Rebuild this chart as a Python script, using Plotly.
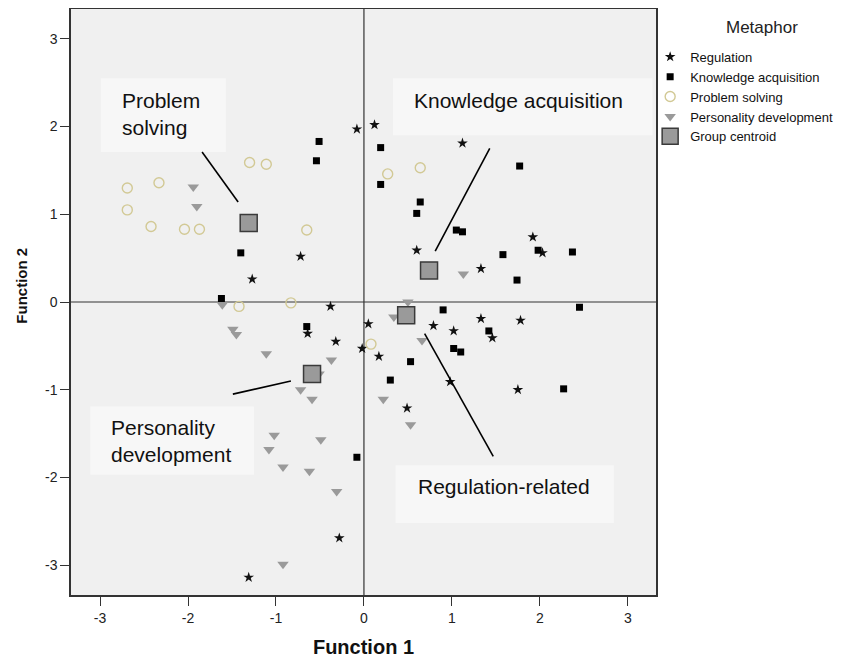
import plotly.graph_objects as go

# ---------------- data ----------------
reg_x = [-0.08, -0.72, -1.27, -0.38, 0.12, 1.12, 0.60, 1.33, 1.92, 2.03,
         -0.64, -0.32, -0.02, 0.05, -0.28, -1.31, 0.17, 0.79, 1.02, 1.33,
         1.78, 1.46, 0.98, 1.75, 0.49]
reg_y = [1.97, 0.52, 0.26, -0.05, 2.02, 1.81, 0.59, 0.38, 0.74, 0.56,
         -0.36, -0.45, -0.53, -0.25, -2.69, -3.14, -0.62, -0.27, -0.33, -0.19,
         -0.21, -0.41, -0.91, -1.00, -1.21]

know_x = [-0.51, -0.54, -1.40, -1.62, 0.19, 0.19, 0.64, 0.60, 1.05, 1.12,
          1.77, 1.58, 1.98, 2.37, 1.74, 0.90, 2.45, 1.42, 1.02, 1.10,
          0.53, 0.30, 2.27, -0.65, -0.08]
know_y = [1.83, 1.61, 0.56, 0.04, 1.76, 1.34, 1.14, 1.01, 0.82, 0.80,
          1.55, 0.54, 0.59, 0.57, 0.25, -0.09, -0.06, -0.33, -0.53, -0.57,
          -0.68, -0.89, -0.99, -0.28, -1.77]

prob_x = [-2.69, -2.33, -2.69, -2.42, -2.04, -1.87, -1.30, -1.11, -0.65, -1.42,
          -0.83, 0.27, 0.64, 0.08]
prob_y = [1.30, 1.36, 1.05, 0.86, 0.83, 0.83, 1.59, 1.57, 0.82, -0.05,
          -0.01, 1.46, 1.53, -0.48]

pers_x = [-1.94, -1.90, -1.61, -1.49, -1.45, -1.11, -0.37, -0.72, -0.59, -0.51,
          -1.02, -1.08, -0.92, -0.49, -0.62, -0.31, -0.92, 1.13, 0.34, 0.66,
          0.22, 0.53, 0.50]
pers_y = [1.31, 1.09, -0.03, -0.31, -0.37, -0.59, -0.66, -1.00, -1.11, -0.82,
          -1.52, -1.68, -1.88, -1.57, -1.93, -2.16, -2.99, 0.32, -0.17, -0.44,
          -1.11, -1.40, 0.00]

cent_x = [0.48, 0.74, -1.31, -0.59]
cent_y = [-0.15, 0.36, 0.90, -0.82]

tick_vals = [-3, -2, -1, 0, 1, 2, 3]
tick_text = ["-3", "-2", "-1", "0", "1", "2", "3"]

FONT = "Liberation Sans, Arial, sans-serif"

fig = go.Figure()

fig.add_trace(go.Scatter(x=reg_x, y=reg_y, mode="markers", name="Regulation",
                         marker=dict(symbol="star", size=8, color="#111111",
                                     line=dict(width=0))))
fig.add_trace(go.Scatter(x=know_x, y=know_y, mode="markers", name="Knowledge acquisition",
                         marker=dict(symbol="square", size=7, color="#000000",
                                     line=dict(width=0))))
fig.add_trace(go.Scatter(x=prob_x, y=prob_y, mode="markers", name="Problem solving",
                         marker=dict(symbol="circle-open", size=10, color="#d2c995",
                                     line=dict(width=1.4, color="#d2c995"))))
fig.add_trace(go.Scatter(x=pers_x, y=pers_y, mode="markers", name="Personality development",
                         marker=dict(symbol="triangle-down", size=10, color="#9a9a9a",
                                     line=dict(width=0))))
fig.add_trace(go.Scatter(x=cent_x, y=cent_y, mode="markers", name="Group centroid",
                         marker=dict(symbol="square", size=17, color="#9a9a9a",
                                     line=dict(width=1.5, color="#3a3a3a"))))

shapes = []
# label boxes
boxes = [(-2.99, 1.71, -1.57, 2.55), (0.33, 1.90, 3.28, 2.55),
         (-3.11, -1.97, -1.25, -1.19), (0.36, -2.52, 2.84, -1.86)]
for x0, y0, x1, y1 in boxes:
    shapes.append(dict(type="rect", xref="x", yref="y", x0=x0, y0=y0, x1=x1, y1=y1,
                       fillcolor="#f7f7f7", line=dict(width=0), layer="below"))
# connector lines
lines = [(-1.84, 1.71, -1.43, 1.14), (1.43, 1.75, 0.81, 0.58),
         (-1.49, -1.05, -0.83, -0.90), (0.69, -0.36, 1.47, -1.76)]
for x0, y0, x1, y1 in lines:
    shapes.append(dict(type="line", xref="x", yref="y", x0=x0, y0=y0, x1=x1, y1=y1,
                       line=dict(color="#000000", width=1.6)))
# zero reference lines
shapes.append(dict(type="line", xref="x", yref="paper", x0=0, x1=0, y0=0, y1=1,
                   line=dict(color="#333333", width=1.2), layer="below"))
shapes.append(dict(type="line", xref="paper", yref="y", x0=0, x1=1, y0=0, y1=0,
                   line=dict(color="#333333", width=1.2), layer="below"))

annotations = [
    dict(x=-2.77, y=2.14, text="Problem<br>solving"),
    dict(x=0.545, y=2.30, text="Knowledge acquisition"),
    dict(x=-2.90, y=-1.58, text="Personality<br>development"),
    dict(x=0.59, y=-2.10, text="Regulation-related"),
]
for a in annotations:
    a.update(xref="x", yref="y", xanchor="left", yanchor="middle", align="left",
             showarrow=False, font=dict(family=FONT, size=21, color="#111111"))

# legend heading
annotations.append(dict(xref="paper", yref="paper", x=1.181, y=0.969,
                        xanchor="center", yanchor="middle", showarrow=False,
                        text="Metaphor",
                        font=dict(family=FONT, size=17, color="#222222")))
# y axis title
annotations.append(dict(xref="paper", yref="paper", x=-0.0846, y=0.527,
                        xanchor="center", yanchor="middle", showarrow=False,
                        textangle=-90, text="<b>Function 2</b>",
                        font=dict(family=FONT, size=15, color="#111111")))

fig.update_layout(
    width=849, height=651,
    margin=dict(l=63, r=201, t=1, b=64),
    paper_bgcolor="white", plot_bgcolor="#f0f0f0",
    font=dict(family=FONT, size=14, color="#222222"),
    shapes=shapes, annotations=annotations,
    legend=dict(x=0.99, y=0.944, xanchor="left", yanchor="top",
                font=dict(family=FONT, size=13, color="#111111"),
                itemwidth=30, tracegroupgap=0, bgcolor="rgba(0,0,0,0)"),
    xaxis=dict(range=[-3.33, 3.32], tickvals=tick_vals, ticktext=tick_text,
               showgrid=False, zeroline=False, showline=True, mirror=True,
               linecolor="#333333", linewidth=1.5, ticks="outside", ticklen=9,
               tickcolor="#333333", tickwidth=1.2, automargin=False,
               tickfont=dict(family=FONT, size=14, color="#222222"),
               title=dict(text="<b>Function 1</b>", standoff=15,
                          font=dict(family=FONT, size=20, color="#111111"))),
    yaxis=dict(range=[-3.34, 3.34], tickvals=tick_vals, ticktext=tick_text,
               showgrid=False, zeroline=False, showline=True, mirror=True,
               linecolor="#333333", linewidth=1.5, ticks="outside", ticklen=9,
               tickcolor="#333333", tickwidth=1.2, automargin=False,
               tickfont=dict(family=FONT, size=14, color="#222222")),
)

fig.write_html("out.html")
